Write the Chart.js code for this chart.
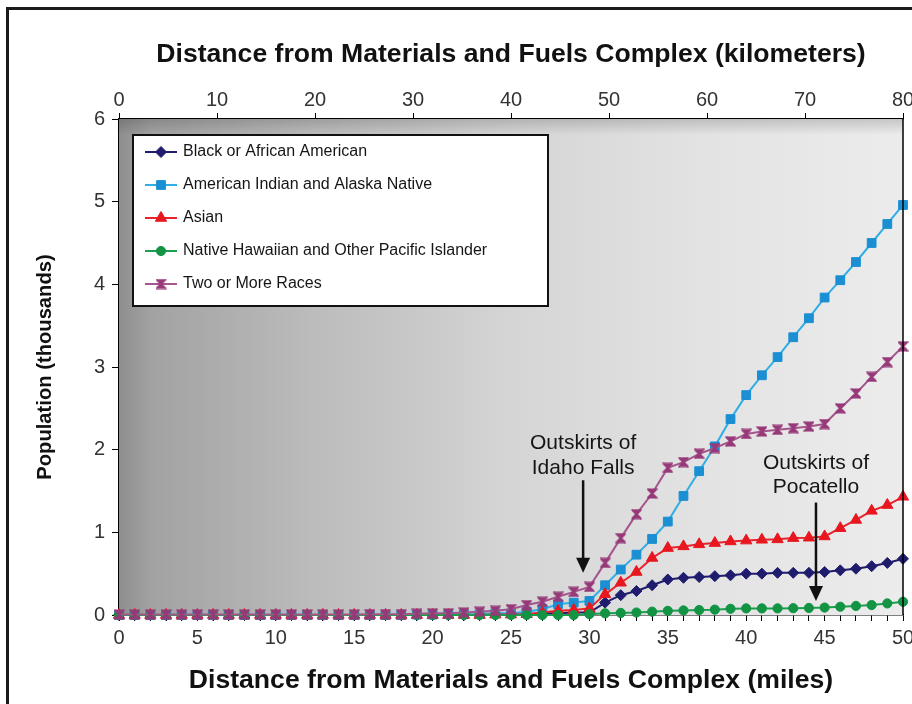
<!DOCTYPE html>
<html>
<head>
<meta charset="utf-8">
<script src="https://cdn.jsdelivr.net/npm/chart.js@4.4.1/dist/chart.umd.min.js"></script>
<style>
  html, body { margin: 0; padding: 0; background: #fff; }
  #wrap { position: relative; width: 912px; height: 704px; overflow: hidden; }
  #wrap canvas { position: absolute; left: 0; top: 0; }
  #frame { position: absolute; left: 6px; top: 7px; right: -10px; bottom: -10px;
           border-left: 3px solid #1b1b1b; border-top: 3px solid #1b1b1b; pointer-events: none; }
</style>
</head>
<body>
<div id="wrap">
  <canvas id="chart" width="912" height="704"></canvas>
  <div id="frame"></div>
</div>
<script>
// Distance from the complex, in miles (one sample per mile)
const miles = [0,1,2,3,4,5,6,7,8,9,10,11,12,13,14,15,16,17,18,19,20,21,22,23,24,25,
               26,27,28,29,30,31,32,33,34,35,36,37,38,39,40,41,42,43,44,45,46,47,48,49,50];

// Cumulative population within each distance, in thousands
const blackAfricanAmerican = [0,0,0,0,0,0,0,0,0,0,0,0,0,0,0,0,0,0,0,0,0,0,0,0,0,0.005,
  0.01,0.02,0.02,0.03,0.03,0.15,0.24,0.29,0.36,0.43,0.45,0.46,0.47,0.48,0.50,0.50,0.51,0.51,0.51,0.52,0.54,0.56,0.59,0.63,0.68];
const americanIndianAlaskaNative = [0,0,0,0,0,0,0,0,0,0,0,0,0,0,0,0,0,0,0,0.005,0.005,0.01,0.01,0.01,0.02,0.02,
  0.04,0.07,0.13,0.15,0.17,0.36,0.55,0.73,0.92,1.13,1.44,1.74,2.04,2.37,2.66,2.90,3.12,3.36,3.59,3.84,4.05,4.27,4.50,4.73,4.96];
const asian = [0,0,0,0,0,0,0,0,0,0,0,0,0,0,0,0,0,0,0,0,0,0,0,0,0.005,0.005,
  0.01,0.03,0.05,0.06,0.08,0.25,0.39,0.52,0.69,0.81,0.83,0.855,0.87,0.89,0.90,0.91,0.915,0.93,0.935,0.95,1.05,1.15,1.26,1.33,1.43];
const nativeHawaiianPacificIslander = [0,0,0,0,0,0,0,0,0,0,0,0,0,0,0,0,0,0,0,0,0,0,0,0,0,0,
  0,0,0,0,0.01,0.02,0.025,0.03,0.04,0.05,0.055,0.06,0.065,0.075,0.08,0.08,0.08,0.082,0.085,0.09,0.10,0.11,0.12,0.14,0.16];
const twoOrMoreRaces = [0.005,0.005,0.005,0.005,0.005,0.005,0.005,0.005,0.005,0.005,0.005,0.005,0.005,0.005,0.005,0.005,0.01,0.01,0.01,0.015,0.02,0.02,0.03,0.04,0.05,0.07,
  0.12,0.16,0.22,0.28,0.34,0.63,0.93,1.22,1.47,1.78,1.85,1.95,2.02,2.10,2.19,2.22,2.24,2.26,2.28,2.31,2.50,2.68,2.88,3.06,3.25];

const seriesLabels = [
  'Black or African American',
  'American Indian and Alaska Native',
  'Asian',
  'Native Hawaiian and Other Pacific Islander',
  'Two or More Races'
];

// Tick values for the kilometre axis and the population axis
const kmTicks = [0,10,20,30,40,50,60,70,80];
const populationTicks = [0,1,2,3,4,5,6];

// Place-name callouts (distance in miles, heights in thousands)
const callouts = [
  { lines: ['Outskirts of', 'Idaho Falls'], x: 29.6, textY: [2.08, 1.78], from: 1.63, to: 0.51 },
  { lines: ['Outskirts of', 'Pocatello'],   x: 44.45, textY: [1.84, 1.55], from: 1.36, to: 0.17 }
];

const FONT = "'Liberation Sans', Arial, Helvetica, sans-serif";

// Hourglass-shaped marker for the "Two or More Races" series
function hourglassMarker(color) {
  const c = document.createElement('canvas');
  c.width = 11; c.height = 11;
  const g = c.getContext('2d');
  g.fillStyle = color;
  g.strokeStyle = color;
  g.lineWidth = 1.2;
  g.beginPath();
  g.moveTo(1, 1); g.lineTo(10, 1); g.lineTo(5.5, 5.5); g.closePath();
  g.moveTo(1, 10); g.lineTo(10, 10); g.lineTo(5.5, 5.5); g.closePath();
  g.fill(); g.stroke();
  g.lineWidth = 2;
  g.beginPath();
  g.moveTo(1, 1); g.lineTo(10, 10);
  g.moveTo(10, 1); g.lineTo(1, 10);
  g.stroke();
  return c;
}

const toPoints = vals => vals.map((v, i) => ({ x: miles[i], y: v }));

const styles = [
  { line: '#1f1c6e', fill: '#1f1c6e', pointStyle: 'rectRot',  radius: 5.5, order: 4 },
  { line: '#31aee3', fill: '#1a8fd3', pointStyle: 'rect',     radius: 6.2, order: 3 },
  { line: '#e8232b', fill: '#e8171f', pointStyle: 'triangle', radius: 6.5, order: 2 },
  { line: '#1c9f4d', fill: '#139445', pointStyle: 'circle',   radius: 4.6, order: 1 },
  { line: '#a5558e', fill: '#963a79', pointStyle: hourglassMarker('#963a79'), radius: 6, order: 0 }
];
const seriesValues = [blackAfricanAmerican, americanIndianAlaskaNative, asian,
                      nativeHawaiianPacificIslander, twoOrMoreRaces];

const datasets = seriesValues.map((vals, i) => ({
  label: seriesLabels[i],
  data: toPoints(vals),
  borderColor: styles[i].line,
  backgroundColor: styles[i].fill,
  pointBackgroundColor: styles[i].fill,
  pointBorderColor: styles[i].fill,
  pointBorderWidth: 1,
  pointStyle: styles[i].pointStyle,
  pointRadius: styles[i].radius,
  borderWidth: 2,
  tension: 0,
  order: styles[i].order,
  clip: 10
}));

// Shaded plot backdrop with a darker left side
const plotBackdrop = {
  id: 'plotBackdrop',
  beforeDatasetsDraw(chart) {
    const { ctx, chartArea: a } = chart;
    ctx.save();
    const g = ctx.createLinearGradient(a.left, 0, a.right, 0);
    g.addColorStop(0, '#8e8e8e');
    g.addColorStop(0.04, '#a2a2a2');
    g.addColorStop(0.25, '#bcbcbc');
    g.addColorStop(0.5, '#d5d5d5');
    g.addColorStop(0.75, '#e3e3e3');
    g.addColorStop(1, '#ececec');
    ctx.fillStyle = g;
    ctx.fillRect(a.left, a.top, a.right - a.left, a.bottom - a.top);
    const t = ctx.createLinearGradient(0, a.top, 0, a.top + 16);
    t.addColorStop(0, 'rgba(0,0,0,0.16)');
    t.addColorStop(1, 'rgba(0,0,0,0)');
    ctx.fillStyle = t;
    ctx.fillRect(a.left, a.top, a.right - a.left, 16);
    ctx.restore();
  },
  afterDatasetsDraw(chart) {
    const { ctx, chartArea: a } = chart;
    ctx.save();
    ctx.strokeStyle = '#000';
    ctx.lineWidth = 1.5;
    ctx.beginPath();
    ctx.moveTo(a.right, a.top);
    ctx.lineTo(a.right, a.bottom);
    ctx.stroke();
    ctx.restore();
  }
};

// Boxed legend in the upper-left of the plot
const legendBox = {
  id: 'legendBox',
  afterDatasetsDraw(chart) {
    const { ctx, chartArea: a } = chart;
    const x0 = a.left + 14, y0 = a.top + 16, w = 415, h = 171;
    ctx.save();
    ctx.fillStyle = '#ffffff';
    ctx.fillRect(x0, y0, w, h);
    ctx.lineWidth = 2;
    ctx.strokeStyle = '#111';
    ctx.strokeRect(x0, y0, w, h);
    ctx.font = '16px ' + FONT;
    ctx.textBaseline = 'middle';
    chart.data.datasets.forEach((ds, i) => {
      const y = y0 + 17 + i * 33;
      ctx.strokeStyle = ds.borderColor;
      ctx.lineWidth = 2;
      ctx.beginPath();
      ctx.moveTo(x0 + 12, y);
      ctx.lineTo(x0 + 44, y);
      ctx.stroke();
      ctx.fillStyle = ds.pointBackgroundColor;
      ctx.strokeStyle = ds.pointBorderColor;
      ctx.lineWidth = 1;
      Chart.helpers.drawPoint(ctx, { pointStyle: ds.pointStyle, radius: ds.pointRadius, rotation: 0, borderWidth: 1 }, x0 + 28, y);
      ctx.fillStyle = '#151515';
      ctx.fillText(ds.label, x0 + 50, y);
    });
    ctx.restore();
  }
};

// Place-name labels with downward arrows
const calloutLayer = {
  id: 'calloutLayer',
  afterDatasetsDraw(chart) {
    const { ctx } = chart;
    const xs = chart.scales.x, ys = chart.scales.y;
    ctx.save();
    ctx.font = '21px ' + FONT;
    ctx.textAlign = 'center';
    ctx.textBaseline = 'middle';
    callouts.forEach(c => {
      const px = xs.getPixelForValue(c.x);
      ctx.fillStyle = '#151515';
      c.lines.forEach((t, i) => ctx.fillText(t, px, ys.getPixelForValue(c.textY[i])));
      const yTop = ys.getPixelForValue(c.from);
      const yTip = ys.getPixelForValue(c.to);
      ctx.strokeStyle = '#111';
      ctx.lineWidth = 2.5;
      ctx.beginPath();
      ctx.moveTo(px, yTop);
      ctx.lineTo(px, yTip - 12);
      ctx.stroke();
      ctx.fillStyle = '#111';
      ctx.beginPath();
      ctx.moveTo(px - 7, yTip - 15);
      ctx.lineTo(px + 7, yTip - 15);
      ctx.lineTo(px, yTip);
      ctx.closePath();
      ctx.fill();
    });
    ctx.restore();
  }
};

const tickFont = { family: FONT, size: 20 };
const titleFont = { family: FONT, size: 26.6, weight: 'bold', lineHeight: 1.2 };

// Horizontal axes keep a fixed height and take no extra side padding for edge labels
const fixHorizontal = h => s => { s.height = h; s.paddingLeft = 0; s.paddingRight = 0; };

new Chart(document.getElementById('chart'), {
  type: 'line',
  data: { datasets },
  plugins: [plotBackdrop, legendBox, calloutLayer],
  options: {
    responsive: false,
    animation: false,
    devicePixelRatio: 1,
    layout: { padding: { left: 0, right: 9, top: 0, bottom: 0 } },
    plugins: { legend: { display: false }, tooltip: { enabled: false } },
    scales: {
      x: {
        type: 'linear', position: 'bottom', min: 0, max: 50,
        afterFit: fixHorizontal(89),
        ticks: {
          stepSize: 1, autoSkip: false, maxRotation: 0, padding: 5,
          font: tickFont, color: '#333',
          callback: v => (v % 5 === 0 ? String(v) : '')
        },
        grid: { drawOnChartArea: false, tickLength: 6, color: '#000', tickColor: '#000', tickWidth: 1 },
        border: { color: '#000', width: 1.5 },
        title: { display: true, text: 'Distance from Materials and Fuels Complex (miles)',
                 font: titleFont, color: '#111', padding: { top: 0, bottom: 7 } }
      },
      x2: {
        type: 'linear', position: 'top', min: 0, max: 80,
        afterFit: fixHorizontal(119),
        afterBuildTicks: s => { s.ticks = kmTicks.map(v => ({ value: v })); },
        ticks: { maxRotation: 0, padding: 1, font: tickFont, color: '#333' },
        grid: { drawOnChartArea: false, tickLength: 6, color: '#000', tickColor: '#000' },
        border: { color: '#000', width: 1.5 },
        title: { display: true, text: 'Distance from Materials and Fuels Complex (kilometers)',
                 font: titleFont, color: '#111', padding: { top: 39, bottom: 0 } }
      },
      y: {
        type: 'linear', position: 'left', min: 0, max: 6,
        afterFit: s => { s.width = 119; s.paddingTop = 0; s.paddingBottom = 0; },
        afterBuildTicks: s => { s.ticks = populationTicks.map(v => ({ value: v })); },
        ticks: { padding: 7, font: tickFont, color: '#333' },
        grid: { drawOnChartArea: false, tickLength: 7, color: '#000', tickColor: '#000' },
        border: { color: '#000', width: 1.5 },
        title: { display: true, text: 'Population (thousands)',
                 font: { family: FONT, size: 20.2, weight: 'bold', lineHeight: 1.2 },
                 color: '#111', padding: { top: 33, bottom: 0 } }
      }
    }
  }
});
</script>
</body>
</html>
